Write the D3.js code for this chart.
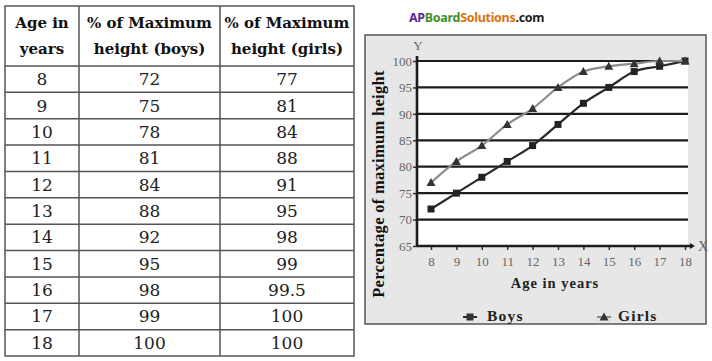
<!DOCTYPE html>
<html>
<head>
<meta charset="utf-8">
<script src="https://cdn.jsdelivr.net/npm/d3@7"></script>
<style>
  body { margin: 0; background: #fff; }
  svg { display: block; }
</style>
</head>
<body>
<svg id="chart" width="712" height="361"></svg>
<script>
const ages = [8, 9, 10, 11, 12, 13, 14, 15, 16, 17, 18];
const boys = [72, 75, 78, 81, 84, 88, 92, 95, 98, 99, 100];
const girls = [77, 81, 84, 88, 91, 95, 98, 99, 99.5, 100, 100];
const boysLabels = ['72', '75', '78', '81', '84', '88', '92', '95', '98', '99', '100'];
const girlsLabels = ['77', '81', '84', '88', '91', '95', '98', '99', '99.5', '100', '100'];
const yTicks = [65, 70, 75, 80, 85, 90, 95, 100];
const gridTicks = [70, 75, 80, 85, 90, 95, 100];

const svg = d3.select('#chart');
const serif = '"Liberation Serif", "DejaVu Serif", serif';
const tableFont = '"DejaVu Serif", "Liberation Serif", serif';

// ---- table on the left
const colX = [5, 79, 220, 354];
const headTop = 6, headBottom = 66, tableBottom = 356;
const row = d3.scaleBand().domain(ages).range([headBottom, tableBottom]);

const table = svg.append('g').attr('stroke', '#555').attr('stroke-width', 1.5);
table.append('rect')
  .attr('x', colX[0]).attr('y', headTop)
  .attr('width', colX[3] - colX[0]).attr('height', tableBottom - headTop)
  .attr('fill', 'none');
table.selectAll('line.col')
  .data(colX.slice(1, 3))
  .join('line')
    .attr('x1', d => d).attr('x2', d => d)
    .attr('y1', headTop).attr('y2', tableBottom);
table.selectAll('line.row')
  .data(ages)
  .join('line')
    .attr('x1', colX[0]).attr('x2', colX[3])
    .attr('y1', d => row(d)).attr('y2', d => row(d));

const headers = [['Age in', 'years'], ['% of Maximum', 'height (boys)'], ['% of Maximum', 'height (girls)']];
svg.append('g')
    .attr('font-family', tableFont)
    .attr('font-weight', 'bold')
    .attr('font-size', 15)
    .attr('text-anchor', 'middle')
    .attr('fill', '#111')
  .selectAll('text')
  .data(headers)
  .join('text')
    .attr('transform', (d, i) => `translate(${(colX[i] + colX[i + 1]) / 2},0)`)
    .call(t => t.append('tspan').attr('x', 0).attr('y', 28).text(d => d[0]))
    .call(t => t.append('tspan').attr('x', 0).attr('y', 54).text(d => d[1]));

const cells = ages.map((a, i) => [String(a), boysLabels[i], girlsLabels[i]]);
svg.append('g')
    .attr('font-family', tableFont)
    .attr('font-size', 17)
    .attr('text-anchor', 'middle')
    .attr('fill', '#222')
  .selectAll('g')
  .data(cells)
  .join('g')
    .attr('transform', (d, i) => `translate(0,${row(ages[i]) + row.bandwidth() / 2 + 6})`)
  .selectAll('text')
  .data(d => d)
  .join('text')
    .attr('x', (d, i) => (colX[i] + colX[i + 1]) / 2)
    .text(d => d);

// ---- watermark
const wm = svg.append('text')
  .attr('x', 409).attr('y', 22)
  .attr('font-family', '"Noto Sans", "DejaVu Sans", sans-serif')
  .attr('font-weight', 'bold')
  .attr('font-size', 12.5)
  .attr('letter-spacing', -0.3);
wm.append('tspan').attr('fill', '#5a2a8c').text('AP');
wm.append('tspan').attr('fill', '#3f8f2a').text('Board');
wm.append('tspan').attr('fill', '#d9730d').text('Solutions');
wm.append('tspan').attr('fill', '#222').text('.com');

// ---- chart on the right
svg.append('rect')
  .attr('x', 365).attr('y', 35).attr('width', 341).attr('height', 289)
  .attr('fill', '#e7e7e7').attr('stroke', '#555').attr('stroke-width', 1.5);

const x = d3.scaleLinear().domain([8, 18]).range([431, 685]);
const y = d3.scaleLinear().domain([65, 100]).range([246, 61]);
const left = 417, right = 688;

svg.append('rect')
  .attr('x', left).attr('y', y(100))
  .attr('width', right - left).attr('height', y(65) - y(100))
  .attr('fill', '#fff');

svg.append('g')
    .attr('stroke', '#1c1c1c').attr('stroke-width', 2.2)
  .selectAll('line')
  .data(gridTicks)
  .join('line')
    .attr('x1', left).attr('x2', right)
    .attr('y1', d => y(d)).attr('y2', d => y(d));

// axes
const yAxis = svg.append('g')
  .attr('transform', `translate(${left},0)`)
  .call(d3.axisLeft(y).tickValues(yTicks).tickSize(4).tickPadding(1));
yAxis.select('.domain').remove();
yAxis.selectAll('line').attr('stroke', '#333').attr('stroke-width', 1.5);
yAxis.selectAll('text').attr('font-family', serif).attr('font-size', 13).attr('fill', '#666');

const xAxis = svg.append('g')
  .attr('transform', `translate(0,${y(65)})`)
  .call(d3.axisBottom(x).tickValues(ages).tickSize(4).tickPadding(7));
xAxis.select('.domain').remove();
xAxis.selectAll('line').attr('stroke', '#333').attr('stroke-width', 1.5);
xAxis.selectAll('text').attr('font-family', serif).attr('font-size', 13).attr('fill', '#666');

svg.append('line')
  .attr('x1', left).attr('x2', left).attr('y1', 56).attr('y2', y(65))
  .attr('stroke', '#1c1c1c').attr('stroke-width', 2.6);
svg.append('line')
  .attr('x1', left).attr('x2', 690).attr('y1', y(65)).attr('y2', y(65))
  .attr('stroke', '#1c1c1c').attr('stroke-width', 2.6);
svg.append('path')
  .attr('d', `M690,${y(65) - 3}L695,${y(65)}L690,${y(65) + 3}Z`)
  .attr('fill', '#1c1c1c');

svg.append('text').attr('x', 418).attr('y', 50)
  .attr('font-family', serif).attr('font-size', 13).attr('fill', '#666')
  .attr('text-anchor', 'middle').text('Y');
svg.append('text').attr('x', 698).attr('y', 251)
  .attr('font-family', serif).attr('font-size', 14).attr('fill', '#666')
  .text('X');

// titles
svg.append('text')
  .attr('transform', 'translate(384,184) rotate(-90)')
  .attr('font-family', serif).attr('font-weight', 'bold').attr('font-size', 16.5)
  .attr('letter-spacing', 0.3)
  .attr('text-anchor', 'middle').attr('fill', '#111')
  .text('Percentage of maximum height');
svg.append('text')
  .attr('x', 555).attr('y', 288)
  .attr('font-family', serif).attr('font-weight', 'bold').attr('font-size', 14.5)
  .attr('letter-spacing', 1)
  .attr('text-anchor', 'middle').attr('fill', '#222')
  .text('Age in years');

// series
const series = [
  {name: 'Boys', values: boys, color: '#2a2a2a', marker: 'square'},
  {name: 'Girls', values: girls, color: '#8c8c8c', marker: 'triangle'}
];
const line = d3.line()
  .x((d, i) => x(ages[i]))
  .y(d => y(d))
  .curve(d3.curveMonotoneX);
const markerPath = (type, cx, cy) => type === 'square'
  ? `M${cx - 3.5},${cy - 3.5}h7v7h-7Z`
  : `M${cx},${cy - 4.5}L${cx + 4.5},${cy + 3.5}L${cx - 4.5},${cy + 3.5}Z`;

series.forEach(s => {
  svg.append('path')
    .datum(s.values)
    .attr('d', line)
    .attr('fill', 'none')
    .attr('stroke', s.color)
    .attr('stroke-width', 2.2);
  svg.append('g')
    .selectAll('path')
    .data(s.values)
    .join('path')
      .attr('d', (d, i) => markerPath(s.marker, x(ages[i]), y(d)))
      .attr('fill', s.marker === 'square' ? '#222' : '#333');
});

// legend
const legend = svg.append('g')
  .selectAll('g')
  .data(series)
  .join('g')
    .attr('transform', (d, i) => `translate(${i === 0 ? 463 : 597},317)`);
legend.append('line')
  .attr('x1', 0).attr('x2', 14).attr('y1', 0).attr('y2', 0)
  .attr('stroke', d => d.color).attr('stroke-width', 2);
legend.append('path')
  .attr('d', d => markerPath(d.marker, 7, 0))
  .attr('fill', '#333');
legend.append('text')
  .attr('x', d => d.name === 'Boys' ? 24 : 21).attr('y', 4)
  .attr('font-family', serif).attr('font-weight', 'bold').attr('font-size', 15.5)
  .attr('letter-spacing', 1.2).attr('fill', '#222')
  .text(d => d.name);
</script>
</body>
</html>
